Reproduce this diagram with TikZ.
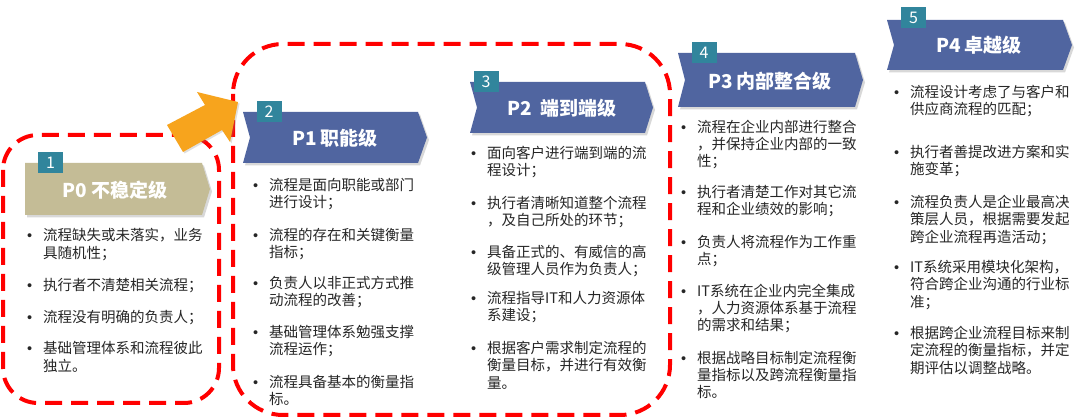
\documentclass[tikz,border=0pt]{standalone}
\usepackage{fontspec}
\setmainfont{Noto Sans CJK SC}
\newfontfamily\bulf{Liberation Sans}
\usetikzlibrary{shadows}
\definecolor{tanc}{HTML}{C4BC96}
\definecolor{bluc}{HTML}{5065A0}
\definecolor{tealc}{HTML}{31859C}
\definecolor{redc}{HTML}{FF0000}
\definecolor{orngc}{HTML}{F7A41D}
\definecolor{txtc}{HTML}{262626}
\newcommand\bul[2][17]{\makebox[16pt][l]{\fontsize{14.5}{#1}\selectfont\bulf •}{\fontsize{14.5}{#1}\selectfont\begin{tabular}[t]{@{}l@{}}#2\end{tabular}}}
\tikzset{
  reddash/.style={draw=redc, line width=4pt, dash pattern=on 17pt off 9pt},
  chevshadow/.style={drop shadow={shadow xshift=2pt, shadow yshift=-2.5pt, opacity=0.3}},
  title/.style={text=white, font=\fontsize{19}{22}\selectfont\bfseries, inner sep=0pt},
  badge/.style={fill=tealc, text=white, minimum width=25pt, minimum height=21pt, inner sep=0pt, font=\fontsize{16}{18}\selectfont},
  itm/.style={anchor=base west, inner sep=0pt, text=txtc},
}
\begin{document}
\begin{tikzpicture}[x=1pt, y=-1pt]
\useasboundingbox (0,0) rectangle (1080,419);
\fill[white] (0,0) rectangle (1080,419);
% red dashed groups
\draw[reddash, rounded corners=35pt] (3,135) rectangle (219,403);
\draw[reddash, rounded corners=50pt] (233,44) rectangle (670,415);
% chevrons
\fill[tanc, chevshadow] (25,163) -- (202,163) -- (210,189) -- (202,215) -- (25,215) -- cycle;
\fill[bluc, chevshadow] (243,112) -- (418,112) -- (427,137.5) -- (418,163) -- (243,163) -- (250,137.5) -- cycle;
\fill[bluc, chevshadow] (470,82) -- (645,82) -- (653,107.5) -- (645,133) -- (470,133) -- (477,107.5) -- cycle;
\fill[bluc, chevshadow] (678,53) -- (855,53) -- (863,80) -- (855,107) -- (678,107) -- (685,80) -- cycle;
\fill[bluc, chevshadow] (887,20) -- (1063,20) -- (1072,45) -- (1063,70) -- (887,70) -- (894,45) -- cycle;
% titles
\node[title] (t0) at (115,190) {P0 不稳定级};
\node[title] (t1) at (335,138) {P1 职能级};
\node[title] (t2) at (562,108) {P2\ \ 端到端级};
\node[title] (t3) at (770,81) {P3 内部整合级};
\node[title] (t4) at (979,45) {P4 卓越级};
% badges
\node[badge] (b1) at (50.5,163) {1};
\node[badge] (b2) at (269,112) {2};
\node[badge] (b3) at (486,81.5) {3};
\node[badge] (b4) at (704,52.5) {4};
\node[badge] (b5) at (913.5,18) {5};
% P0 items
\node[itm] (p0a) at (27,240.5) {\bul[18.5]{流程缺失或未落实，业务\\具随机性；}};
\node[itm] (p0b) at (27,290.5) {\bul[18.5]{执行者不清楚相关流程；}};
\node[itm] (p0c) at (27,322.5) {\bul[18.5]{流程没有明确的负责人；}};
\node[itm] (p0d) at (27,353.5) {\bul[18.5]{基础管理体系和流程彼此\\独立。}};
% P1 items
\node[itm] (p1a) at (253,190.5) {\bul[17.5]{流程是面向职能或部门\\进行设计；}};
\node[itm] (p1b) at (253,240.5) {\bul[17.5]{流程的存在和关键衡量\\指标；}};
\node[itm] (p1c) at (253,288.5) {\bul[17.5]{负责人以非正式方式推\\动流程的改善；}};
\node[itm] (p1d) at (253,337.5) {\bul[17.5]{基础管理体系勉强支撑\\流程运作；}};
\node[itm] (p1e) at (253,387.5) {\bul[17.5]{流程具备基本的衡量指\\标。}};
% P2 items
\node[itm] (p2a) at (471,158.5) {\bul[17.5]{面向客户进行端到端的流\\程设计；}};
\node[itm] (p2b) at (471,208.5) {\bul[17.5]{执行者清晰知道整个流程\\，及自己所处的环节；}};
\node[itm] (p2c) at (471,257.5) {\bul[17.5]{具备正式的、有威信的高\\级管理人员作为负责人；}};
\node[itm] (p2d) at (471,303.5) {\bul[17.5]{流程指导IT和人力资源体\\系建设；}};
\node[itm] (p2e) at (471,353.5) {\bul[17.5]{根据客户需求制定流程的\\衡量目标，并进行有效衡\\量。}};
% P3 items
\node[itm] (p3a) at (681,132.5) {\bul[16.5]{流程在企业内部进行整合\\，并保持企业内部的一致\\性；}};
\node[itm] (p3b) at (681,197.5) {\bul[16.5]{执行者清楚工作对其它流\\程和企业绩效的影响；}};
\node[itm] (p3c) at (681,247.5) {\bul[16.5]{负责人将流程作为工作重\\点；}};
\node[itm] (p3d) at (681,296.5) {\bul[16.5]{IT系统在企业内完全集成\\，人力资源体系基于流程\\的需求和结果；}};
\node[itm] (p3e) at (681,363.5) {\bul[16.5]{根据战略目标制定流程衡\\量指标以及跨流程衡量指\\标。}};
% P4 items
\node[itm] (p4a) at (894,97.5) {\bul[17]{流程设计考虑了与客户和\\供应商流程的匹配；}};
\node[itm] (p4b) at (894,157.5) {\bul[17]{执行者善提改进方案和实\\施变革；}};
\node[itm] (p4c) at (894,207.5) {\bul[17]{流程负责人是企业最高决\\策层人员，根据需要发起\\跨企业流程再造活动；}};
\node[itm] (p4d) at (894,272.5) {\bul[17]{IT系统采用模块化架构，\\符合跨企业沟通的行业标\\准；}};
\node[itm] (p4e) at (894,338.5) {\bul[17]{根据跨企业流程目标来制\\定流程的衡量指标，并定\\期评估以调整战略。}};
% orange arrow
\fill[orngc, drop shadow={shadow xshift=1.5pt, shadow yshift=-1.5pt, opacity=0.25}] (167,125) -- (205,105) -- (197,92) -- (238,102) -- (230,142) -- (222,130) -- (183,152) -- cycle;
\end{tikzpicture}
\end{document}
